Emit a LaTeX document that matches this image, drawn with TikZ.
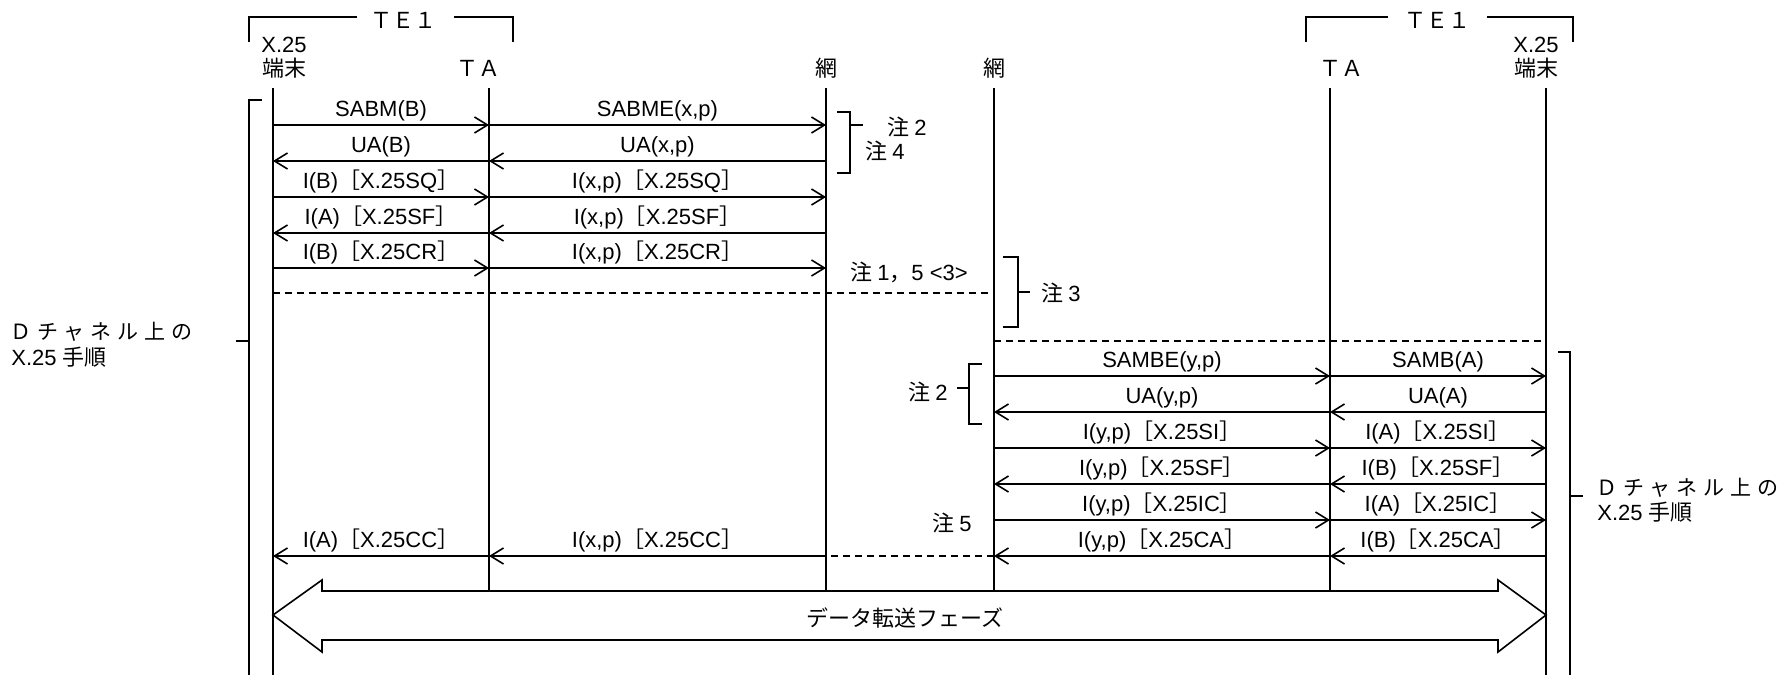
\documentclass[tikz,border=0pt]{standalone}
\usepackage{fontspec}
\setmainfont{Liberation Sans}
\newfontfamily\jp{Noto Sans CJK JP}
\newfontfamily\jpsp[LetterSpace=28]{Noto Sans CJK JP}
\usepackage{tikz}
\usetikzlibrary{arrows.meta,calc}

\newcommand{\lbk}{{\jp ［}}
\newcommand{\rbk}{{\jp ］}}
\newcommand{\cnote}[1]{{\jp 注}\hspace{2.5pt}#1}

\begin{document}
\begin{tikzpicture}[x=0.5pt,y=-0.5pt,
  every node/.style={font=\fontsize{11}{13}\selectfont,inner sep=0pt},
  life/.style={line width=0.8pt},
  msg/.style={line width=0.8pt,-{Straight Barb[length=6.5pt,width=8pt]}},
  dsh/.style={line width=0.8pt,dash pattern=on 3.5pt off 2.5pt},
  brk/.style={line width=0.8pt},
  lbl/.style={anchor=base,yshift=4.5pt}]
  \useasboundingbox (0,0) rectangle (1791,675);
  % lifelines
  \coordinate (te1) at (273,88);
  \coordinate (ta1) at (489,88);
  \coordinate (nw1) at (826,88);
  \coordinate (nw2) at (994,88);
  \coordinate (ta2) at (1330,88);
  \coordinate (te2) at (1546,88);
  \foreach \n in {ta1,nw1,nw2,ta2} \draw[life] (\n) -- (\n |- 0,591);
  \foreach \n in {te1,te2} \draw[life] (\n) -- (\n |- 0,675);
  % headers
  \node (hx1) at (284,45) {X.25};
  \node (ht1) at (284,68) {\jp 端末};
  \node (hta1) at (478,68) {\jp ＴＡ};
  \node (hnw1) at (826,68) {\jp 網};
  \node (hnw2) at (994,68) {\jp 網};
  \node (hta2) at (1341,68) {\jp ＴＡ};
  \node (hx2) at (1536,45) {X.25};
  \node (ht2) at (1536,68) {\jp 端末};
  % TE1 groups
  \node (g1) at (403,20) {\jp ＴＥ１};
  \draw[brk] (249,42) -- (249,17) -- (357,17);
  \draw[brk] (454,17) -- (513,17) -- (513,42);
  \node (g2) at (1437,20) {\jp ＴＥ１};
  \draw[brk] (1306,42) -- (1306,17) -- (1388,17);
  \draw[brk] (1487,17) -- (1573,17) -- (1573,42);
  % frames
  \foreach \y/\a/\b/\t in {
    125/te1/ta1/{SABM(B)}, 125/ta1/nw1/{SABME(x,p)},
    161/ta1/te1/{UA(B)}, 161/nw1/ta1/{UA(x,p)},
    197/te1/ta1/{I(B)\lbk X.25SQ\rbk}, 197/ta1/nw1/{I(x,p)\lbk X.25SQ\rbk},
    233/ta1/te1/{I(A)\lbk X.25SF\rbk}, 233/nw1/ta1/{I(x,p)\lbk X.25SF\rbk},
    268/te1/ta1/{I(B)\lbk X.25CR\rbk}, 268/ta1/nw1/{I(x,p)\lbk X.25CR\rbk},
    376/nw2/ta2/{SAMBE(y,p)}, 376/ta2/te2/{SAMB(A)},
    412/ta2/nw2/{UA(y,p)}, 412/te2/ta2/{UA(A)},
    448/nw2/ta2/{I(y,p)\lbk X.25SI\rbk}, 448/ta2/te2/{I(A)\lbk X.25SI\rbk},
    484/ta2/nw2/{I(y,p)\lbk X.25SF\rbk}, 484/te2/ta2/{I(B)\lbk X.25SF\rbk},
    520/nw2/ta2/{I(y,p)\lbk X.25IC\rbk}, 520/ta2/te2/{I(A)\lbk X.25IC\rbk},
    556/ta2/nw2/{I(y,p)\lbk X.25CA\rbk}, 556/te2/ta2/{I(B)\lbk X.25CA\rbk},
    556/nw1/ta1/{I(x,p)\lbk X.25CC\rbk}, 556/ta1/te1/{I(A)\lbk X.25CC\rbk}}
    \draw[msg] (\a |- 0,\y) -- (\b |- 0,\y) node[midway,lbl] {\t};
  \draw[dsh] (te1 |- 0,293) -- (nw2 |- 0,293);
  \draw[dsh] (nw2 |- 0,341) -- (te2 |- 0,341);
  \draw[dsh] (nw2 |- 0,556) -- (nw1 |- 0,556);
  % notes
  \draw[brk] (837,112) -- (850,112) -- (850,173) -- (837,173);
  \draw[brk] (850,125) -- (863,125);
  \node (n2a) at (907,127) {\cnote{2}};
  \node (n4) at (885,151) {\cnote{4}};
  \node (n15) at (909,272) {{\jp 注}\hspace{2.5pt}1{\jp ，}5 <3>};
  \draw[brk] (1003,257) -- (1018,257) -- (1018,327) -- (1003,327);
  \draw[brk] (1018,292) -- (1030,292);
  \node[anchor=west] (n3) at (1041,293) {\cnote{3}};
  \draw[brk] (982,364) -- (969,364) -- (969,424) -- (982,424);
  \draw[brk] (957,388) -- (969,388);
  \node (n2b) at (928,392) {\cnote{2}};
  \node (n5) at (952,523) {\cnote{5}};
  % D channel procedure
  \draw[brk] (262,100) -- (249,100) -- (249,675);
  \draw[brk] (236,341) -- (249,341);
  \node[anchor=west] (dl1) at (10,332) {\jpsp\fontsize{10.5}{12}\selectfont Ｄチャネル上の};
  \node[anchor=west] (dl2) at (11,357) {X.25 {\jp 手順}};
  \draw[brk] (1558,352) -- (1570,352) -- (1570,675);
  \draw[brk] (1570,496) -- (1583,496);
  \node[anchor=west] (dr1) at (1596,488) {\jpsp\fontsize{10.5}{12}\selectfont Ｄチャネル上の};
  \node[anchor=west] (dr2) at (1597,512) {X.25 {\jp 手順}};
  % data phase
  \draw[line width=0.8pt] (te1 |- 0,615) -- (322,580) -- (322,591) -- (1498,591)
    -- (1498,580) -- (te2 |- 0,615) -- (1498,652) -- (1498,640) -- (322,640)
    -- (322,652) -- cycle;
  \node (phase) at (905,618) {\jp データ転送フェーズ};
\end{tikzpicture}
\end{document}
